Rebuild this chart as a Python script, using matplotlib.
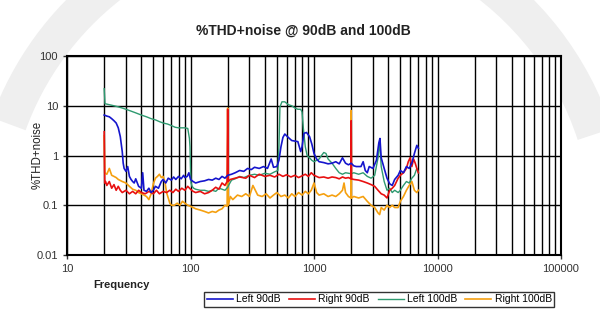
import numpy as np
import matplotlib
matplotlib.use('Agg')
import matplotlib.pyplot as plt
from matplotlib.patches import Arc
from matplotlib.ticker import FixedLocator, NullFormatter

plt.rcParams['font.family'] = ['Liberation Sans', 'DejaVu Sans']

# Left 90dB
f_l90 = [20, 21, 22, 23, 24, 25, 26, 27, 28, 28.5, 29, 30, 31, 32, 33, 34, 35, 36, 38, 40,
         41, 42, 44, 46, 48, 50, 52, 55, 58, 60, 63, 66, 70, 73, 76, 80, 84, 88, 90, 94,
         97, 100, 105, 110, 120, 130, 140, 150, 160, 170, 180, 190, 200, 215, 230, 250, 270, 290, 310, 330,
         360, 390, 420, 450, 470, 500, 520, 540, 560, 580, 620, 660, 700, 740, 780, 800, 830, 870, 920, 960,
         1000, 1050, 1100, 1200, 1300, 1400, 1500, 1600, 1700, 1800, 1900, 2000, 2100, 2200, 2400, 2500, 2600, 2700, 2800, 3000,
         3200, 3350, 3420, 3500, 3700, 3900, 4100, 4300, 4500, 4800, 5000, 5300, 5600, 5900, 6200, 6500, 6800, 7000]
v_l90 = [6.5, 6.2, 6.0, 5.5, 5.0, 4.5, 3.6, 2.4, 1.2, 0.7, 0.55, 0.48, 0.6, 0.38, 0.33, 0.3, 0.28, 0.34, 0.24, 0.22,
         0.45, 0.2, 0.19, 0.22, 0.18, 0.2, 0.24, 0.22, 0.3, 0.33, 0.28, 0.35, 0.32, 0.37, 0.33, 0.38, 0.34, 0.4, 0.36, 0.38,
         0.45, 0.33, 0.3, 0.28, 0.3, 0.31, 0.33, 0.32, 0.35, 0.33, 0.38, 0.35, 0.4, 0.42, 0.45, 0.5, 0.48, 0.55, 0.52, 0.58,
         0.55, 0.6, 0.55, 0.85, 0.58, 0.6, 0.8, 1.5, 2.3, 2.7, 2.3, 2.0, 1.95, 1.9, 1.2, 1.5, 2.8, 2.9, 2.4, 1.7,
         1.1, 0.85, 0.75, 0.72, 0.68, 0.7, 0.75, 0.68, 0.9, 0.7, 0.65, 0.7, 0.62, 0.6, 0.6, 0.75, 0.5, 0.45, 0.6, 0.55,
         0.8, 1.8, 2.2, 0.9, 0.55, 0.35, 0.27, 0.25, 0.33, 0.4, 0.5, 0.45, 0.6, 0.55, 0.7, 1.1, 1.6, 1.4]

# Right 90dB
f_r90 = [20, 20.2, 20.5, 21, 22, 23, 24, 25, 26, 27, 28, 30, 32, 34, 36, 38, 40, 43, 46, 50,
         53, 56, 60, 64, 68, 72, 76, 80, 85, 90, 95, 100, 105, 110, 120, 130, 140, 150, 160, 170,
         180, 190, 198, 200, 202, 210, 230, 250, 280, 300, 330, 360, 400, 440, 480, 520, 560, 600, 650, 700,
         750, 800, 850, 900, 950, 1000, 1100, 1200, 1300, 1400, 1500, 1600, 1700, 1800, 1900, 1990, 2000, 2010, 2100, 2300,
         2500, 2700, 2900, 3100, 3300, 3500, 3700, 3900, 4100, 4300, 4500, 4800, 5000, 5300, 5600, 5800, 6000, 6200, 6400, 6600,
         6800, 7000]
v_r90 = [3.0, 0.28, 0.3, 0.25, 0.3, 0.22, 0.26, 0.2, 0.24, 0.2, 0.18, 0.2, 0.17, 0.19, 0.17, 0.2, 0.18, 0.17, 0.19, 0.17,
         0.2, 0.17, 0.19, 0.18, 0.2, 0.18, 0.21, 0.19, 0.22, 0.2, 0.24, 0.21, 0.19, 0.18, 0.19, 0.17, 0.18, 0.2, 0.23, 0.21,
         0.28, 0.25, 0.3, 8.5, 0.3, 0.33, 0.35, 0.37, 0.35, 0.4, 0.36, 0.42, 0.38, 0.4, 0.37, 0.42, 0.38, 0.41, 0.37, 0.4,
         0.36, 0.39, 0.42, 0.38, 0.45, 0.4, 0.36, 0.37, 0.35, 0.37, 0.36, 0.34, 0.37, 0.35, 0.36, 0.34, 5.0, 0.34, 0.33, 0.32,
         0.3, 0.28, 0.26, 0.24, 0.2, 0.17, 0.16, 0.14, 0.2, 0.22, 0.25, 0.35, 0.4, 0.45, 0.55, 0.75, 0.9, 0.6, 0.85, 0.7,
         0.55, 0.45]

# Left 100dB
f_l100 = [20, 20.3, 22, 24, 26, 28, 30, 33, 36, 40, 44, 48, 52, 56, 60, 65, 70, 75, 80, 85,
          90, 95, 98, 99, 100, 101, 103, 106, 110, 120, 130, 140, 150, 160, 170, 180, 190, 200, 205, 215,
          230, 250, 270, 300, 330, 360, 400, 440, 480, 510, 520, 530, 550, 580, 620, 660, 700, 740, 780, 800,
          820, 850, 880, 920, 960, 1000, 1050, 1100, 1150, 1200, 1250, 1300, 1400, 1500, 1600, 1700, 1800, 1900, 2000, 2100,
          2300, 2500, 2700, 2900, 3100, 3300, 3400, 3500, 3700, 3900, 4100, 4300, 4500, 4800, 5000, 5300, 5600, 5900, 6200, 6500,
          6800, 7000]
v_l100 = [22, 11, 10.5, 10, 9.5, 9, 8.5, 7.8, 7.2, 6.5, 6.0, 5.5, 5.2, 4.8, 4.5, 4.3, 4.0, 3.7, 3.6, 3.6,
          3.6, 3.5, 2.2, 1.5, 0.5, 0.28, 0.24, 0.22, 0.21, 0.2, 0.2, 0.19, 0.2, 0.19, 0.22, 0.21, 0.2, 0.23, 0.26, 0.32,
          0.34, 0.38, 0.36, 0.4, 0.42, 0.4, 0.44, 0.42, 0.47, 0.5, 1.5, 9.5, 12, 12, 10.5, 10, 9, 8.5, 8.5, 7.5,
          3.5, 1.5, 1.0, 0.9, 0.8, 0.75, 0.8, 0.85, 1.0, 1.15, 1.1, 0.85, 0.7, 0.55, 0.45, 0.42, 0.45, 0.44, 0.43, 0.45,
          0.42, 0.45, 0.38, 0.35, 0.4, 0.9, 1.9, 0.6, 0.3, 0.2, 0.22, 0.18, 0.2, 0.18, 0.2, 0.25, 0.3, 0.28, 0.35, 0.4,
          0.55, 0.45]

# Right 100dB
f_r100 = [20, 20.2, 21, 22, 23, 24, 25, 26, 28, 30, 32, 34, 36, 38, 40, 42, 44, 46, 48, 50,
          52, 54, 56, 58, 60, 62, 64, 66, 68, 70, 74, 78, 82, 86, 90, 95, 100, 105, 110, 120,
          130, 140, 150, 160, 170, 180, 190, 198, 200, 202, 210, 220, 240, 260, 280, 300, 320, 350, 380, 410,
          440, 470, 500, 540, 580, 620, 660, 700, 750, 800, 850, 900, 950, 1000, 1050, 1100, 1200, 1300, 1400, 1500,
          1600, 1700, 1750, 1800, 1900, 1990, 2000, 2010, 2100, 2300, 2500, 2700, 2900, 3100, 3300, 3400, 3500, 3700, 3900, 4100,
          4300, 4500, 4800, 5000, 5300, 5600, 5900, 6200, 6500, 6800, 7000]
v_r100 = [2.5, 0.45, 0.42, 0.55, 0.4, 0.38, 0.36, 0.33, 0.3, 0.28, 0.24, 0.21, 0.2, 0.18, 0.17, 0.16, 0.15, 0.13, 0.17, 0.27,
          0.35, 0.38, 0.42, 0.36, 0.38, 0.3, 0.18, 0.14, 0.11, 0.1, 0.1, 0.11, 0.1, 0.12, 0.11, 0.1, 0.095, 0.09, 0.085, 0.08,
          0.075, 0.07, 0.075, 0.072, 0.08, 0.085, 0.1, 0.095, 9.0, 0.1, 0.15, 0.13, 0.16, 0.15, 0.17, 0.15, 0.25, 0.16, 0.15, 0.17,
          0.14, 0.16, 0.18, 0.15, 0.16, 0.14, 0.17, 0.15, 0.18, 0.16, 0.19, 0.17, 0.2, 0.28, 0.18, 0.16, 0.17, 0.15, 0.16, 0.15,
          0.17, 0.2, 0.28, 0.18, 0.15, 0.14, 8.0, 0.14, 0.15, 0.14, 0.15, 0.12, 0.1, 0.09, 0.07, 0.065, 0.09, 0.08, 0.1, 0.09,
          0.1, 0.09, 0.09, 0.12, 0.15, 0.2, 0.25, 0.3, 0.2, 0.18, 0.2]

fig = plt.figure(figsize=(6, 3.27), dpi=100)
fig.patch.set_facecolor('white')

# faint watermark arcs at the top corners
for a1, a2 in [(128, 160), (18, 58)]:
    fig.patches.append(Arc((3.0, 0.97), 6.2, 6.2, theta1=a1, theta2=a2,
                           transform=fig.dpi_scale_trans, lw=26, color='#efefef', zorder=-5))

ax = fig.add_axes([0.1117, 0.2202, 0.8233, 0.6085])
ax.set_facecolor('white')
ax.set_xscale('log')
ax.set_yscale('log')
ax.set_xlim(10, 100000)
ax.set_ylim(0.01, 100)

ax.plot(f_l90, v_l90, color='#1515cc', lw=1.2, label='Left 90dB', zorder=5)
ax.plot(f_r90, v_r90, color='#e81010', lw=1.2, label='Right 90dB', zorder=4)
ax.plot(f_l100, v_l100, color='#2e9a70', lw=1.0, label='Left 100dB', zorder=3)
ax.plot(f_r100, v_r100, color='#f5a010', lw=1.2, label='Right 100dB', zorder=2)

ax.set_xticks([10, 100, 1000, 10000, 100000])
ax.set_xticklabels(['10', '100', '1000', '10000', '100000'])
minor_x = [m * d for d in [10, 100, 1000, 10000] for m in range(2, 10)]
ax.xaxis.set_minor_locator(FixedLocator(minor_x))
ax.xaxis.set_minor_formatter(NullFormatter())
ax.set_yticks([0.01, 0.1, 1, 10, 100])
ax.set_yticklabels(['0.01', '0.1', '1', '10', '100'])
ax.yaxis.set_minor_locator(FixedLocator([]))

ax.grid(True, which='major', color='black', lw=1.0)
ax.grid(True, which='minor', axis='x', color='black', lw=1.0)
ax.tick_params(which='major', direction='out', length=3, width=1, labelsize=8, colors='#333333')
ax.tick_params(which='minor', length=0)
for s in ax.spines.values():
    s.set_linewidth(1.5)

fig.text(0.505, 0.905, '%THD+noise @ 90dB and 100dB', ha='center', va='center',
         fontsize=10, fontweight='bold', color='#222222')
fig.text(0.203, 0.128, 'Frequency', ha='center', va='center', fontsize=8,
         fontweight='bold', color='#222222')
fig.text(0.063, 0.525, '%THD+noise', ha='center', va='center', rotation=90,
         fontsize=8.3, color='#222222')

leg = fig.legend(loc='center', bbox_to_anchor=(0.632, 0.0845), ncol=4, frameon=True,
                 fontsize=7.5, handlelength=2.5, handletextpad=0.3, columnspacing=0.8,
                 borderpad=0.25, fancybox=False, edgecolor='black')
leg.get_frame().set_linewidth(1.0)

fig.savefig('out.png', dpi=100)
